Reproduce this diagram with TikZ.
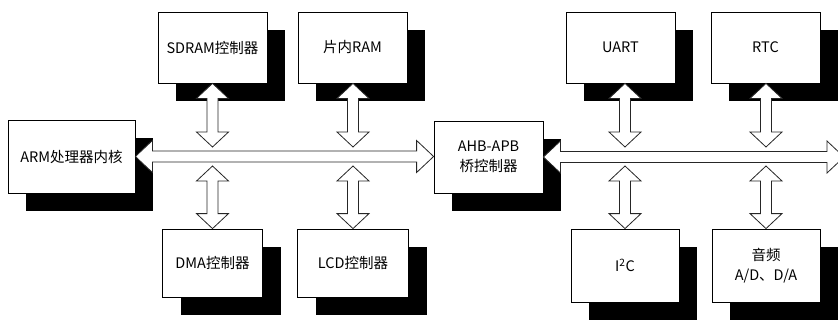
\documentclass[tikz,border=0pt]{standalone}
\usepackage{fontspec}
\setmainfont{Noto Sans CJK SC}
\usepackage{tikz}
\usetikzlibrary{calc, shadows}
% hollow block arrow with a head at both ends, left to right
\newcommand{\hlink}[2]{%
  \draw[fat] let \p1=(#1), \p2=(#2) in
    (\x1,\y1) -- (\x1+17,\y1+16) -- (\x1+17,\y1+5.5) -- (\x2-17,\y1+5.5)
    -- (\x2-17,\y1+16) -- (\x2,\y1) -- (\x2-17,\y1-16) -- (\x2-17,\y1-5.5)
    -- (\x1+17,\y1-5.5) -- (\x1+17,\y1-16) -- cycle;}
% the same, top to bottom
\newcommand{\vlink}[2]{%
  \draw[fat] let \p1=(#1), \p2=(#2) in
    (\x1,\y1) -- (\x1+16,\y1-15) -- (\x1+5.5,\y1-15) -- (\x1+5.5,\y2+15)
    -- (\x1+16,\y2+15) -- (\x1,\y2) -- (\x1-16,\y2+15) -- (\x1-5.5,\y2+15)
    -- (\x1-5.5,\y1-15) -- (\x1-16,\y1-15) -- cycle;}

\begin{document}
\begin{tikzpicture}[
  x=1pt, y=-1pt,
  font=\fontsize{14.5}{20}\selectfont,
  unit/.style={
    draw, fill=white, line width=0.8pt, inner sep=0pt, align=center,
    minimum width=109pt, minimum height=71pt,
    drop shadow={fill=black, opacity=1, shadow xshift=18pt, shadow yshift=-18pt}
  },
  fat/.style={draw=black!85, fill=white, line width=0.8pt, line join=miter}
]
  \useasboundingbox (0,0) rectangle (838,321);
  \clip (0,0) rectangle (838,321);
  % AHB side
  \node[unit, minimum width=127pt, minimum height=73pt] (arm) at (71.5,156.5) {ARM处理器内核};
  \node[unit] (sdram) at (212.5,47.5) {SDRAM控制器};
  \node[unit] (ram) at (352.5,47.5) {片内RAM};
  \node[unit, minimum width=100pt, minimum height=68pt] (dma) at (212.5,263) {DMA控制器};
  \node[unit, minimum width=111pt, minimum height=68pt] (lcd) at (353,263) {LCD控制器};
  \node[unit, minimum height=72pt] (bridge) at (488.5,157) {AHB-APB\\桥控制器};
  % APB side
  \node[unit] (uart) at (620.5,47.5) {UART};
  \node[unit] (rtc) at (765.5,47.5) {RTC};
  \node[unit, minimum width=108pt, minimum height=73pt] (iic) at (625,265.5) {I\textsuperscript{2}C};
  \node[unit, minimum width=108pt, minimum height=73pt] (audio) at (766,265.5) {音频\\A/D、D/A};
  \coordinate (busup) at (0,147);
  \coordinate (busdn) at (0,166);
  \coordinate (busend) at (844,157);
  % buses
  \hlink{arm.east}{bridge.west}
  \hlink{bridge.east}{busend}
  \foreach \up/\dn in {sdram/dma, ram/lcd, uart/iic, rtc/audio} {
    \vlink{\dn.north |- \up.south}{\dn.north |- busup}
    \vlink{\dn.north |- busdn}{\dn.north}
  }
\end{tikzpicture}
\end{document}
